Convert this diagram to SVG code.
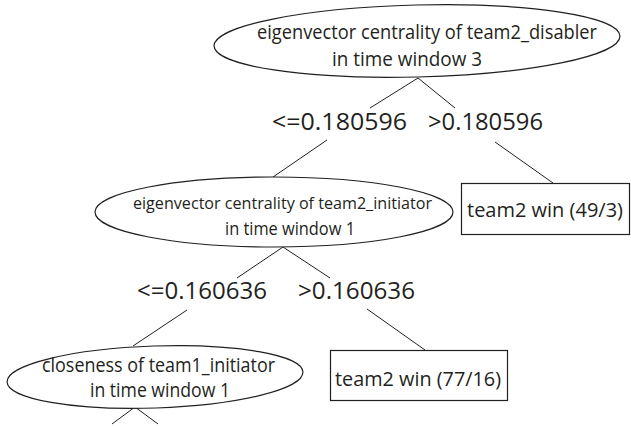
<svg xmlns="http://www.w3.org/2000/svg" width="631" height="426" viewBox="0 0 631 426">
<style>
.shape{fill:#ffffff;stroke:#231f20;stroke-width:1.2}
.edge{stroke:#231f20;stroke-width:1;fill:none}
text{font-family:"Open Sans","Noto Sans",sans-serif;fill:#231f20}
.n{font-size:20px}
.s{font-size:17px}
.m{font-size:19px}
.t{font-size:23px}
</style>
<rect width="631" height="426" fill="#ffffff"/>
<g id="connectors">
<line class="edge" x1="418" y1="78" x2="370" y2="108"/>
<line class="edge" x1="418" y1="78" x2="455" y2="108"/>
<line class="edge" x1="327" y1="140" x2="273" y2="177"/>
<line class="edge" x1="495" y1="142" x2="553" y2="183"/>
<line class="edge" x1="283" y1="247" x2="237" y2="278"/>
<line class="edge" x1="283" y1="247" x2="330" y2="278"/>
<line class="edge" x1="187" y1="310" x2="133" y2="346"/>
<line class="edge" x1="367" y1="309" x2="425" y2="350"/>
<line class="edge" x1="135" y1="407" x2="112" y2="424"/>
<line class="edge" x1="135" y1="407" x2="158" y2="424"/>
<text class="t" x="272" y="130" textLength="135" lengthAdjust="spacingAndGlyphs">&lt;=0.180596</text>
<text class="t" x="428" y="130" textLength="115" lengthAdjust="spacingAndGlyphs">&gt;0.180596</text>
<text class="t" x="137" y="299" textLength="130" lengthAdjust="spacingAndGlyphs">&lt;=0.160636</text>
<text class="t" x="298" y="299" textLength="117" lengthAdjust="spacingAndGlyphs">&gt;0.160636</text>
</g>
<g id="node-root">
<ellipse class="shape" cx="417" cy="41" rx="203" ry="36" transform="rotate(-1.4 417 41)"/>
<text class="n" x="257" y="39" textLength="340" lengthAdjust="spacingAndGlyphs">eigenvector centrality of team2_disabler</text>
<text class="n" x="332" y="66" textLength="150" lengthAdjust="spacingAndGlyphs">in time window 3</text>
</g>
<g id="node-initiator">
<ellipse class="shape" cx="274" cy="212" rx="179" ry="35"/>
<text class="s" x="133" y="209" textLength="299" lengthAdjust="spacingAndGlyphs">eigenvector centrality of team2_initiator</text>
<text class="m" x="225" y="235" textLength="130" lengthAdjust="spacingAndGlyphs">in time window  1</text>
</g>
<g id="node-leaf1">
<rect class="shape" x="461.5" y="183.5" width="168" height="51"/>
<text class="n" x="467" y="217" textLength="156" lengthAdjust="spacingAndGlyphs">team2 win (49/3)</text>
</g>
<g id="node-closeness">
<ellipse class="shape" cx="155" cy="377" rx="148" ry="31" transform="rotate(-1.9 155 377)"/>
<text class="n" x="42" y="372" textLength="233" lengthAdjust="spacingAndGlyphs">closeness of team1_initiator</text>
<text class="n" x="90" y="397" textLength="140" lengthAdjust="spacingAndGlyphs">in time window 1</text>
</g>
<g id="node-leaf2">
<rect class="shape" x="330.5" y="350.5" width="177" height="50"/>
<text class="n" x="335" y="386" textLength="166" lengthAdjust="spacingAndGlyphs">team2 win (77/16)</text>
</g>
</svg>
